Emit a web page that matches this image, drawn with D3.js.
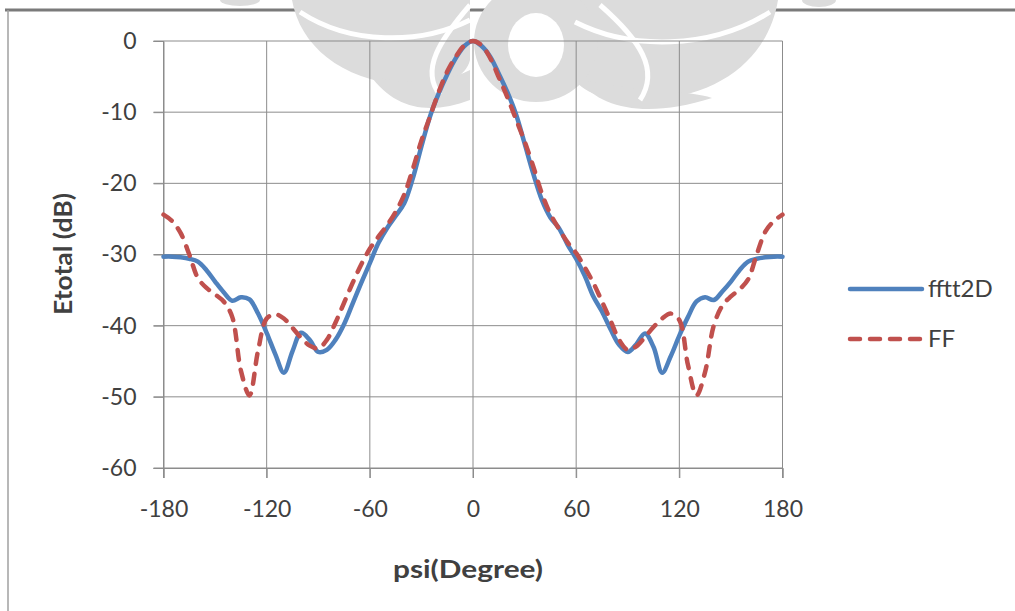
<!DOCTYPE html>
<html>
<head>
<meta charset="utf-8">
<script src="https://cdn.jsdelivr.net/npm/d3@7"></script>
<style>
html,body{margin:0;padding:0;background:#fff;}
svg{display:block;}
text{font-family:Lato,"Open Sans",sans-serif;fill:#404040;}
</style>
</head>
<body>
<svg id="chart" width="1015" height="611"></svg>
<script>
// ---- data ----
const psi = [-180,-175,-170,-165,-160,-155,-150,-145,-140,-135,-130,-125,-120,-115,-110,-105,-100,-95,-90,-85,-80,-75,-70,-65,-60,-55,-50,-45,-40,-35,-30,-25,-20,-15,-10,-5,0,5,10,15,20,25,30,35,40,45,50,55,60,65,70,75,80,85,90,95,100,105,110,115,120,125,130,135,140,145,150,155,160,165,170,175,180];
const fftt2D = [-30.3,-30.3,-30.4,-30.6,-31.0,-32.2,-33.8,-35.3,-36.5,-36.0,-36.3,-38.3,-41.0,-44.0,-46.6,-43.6,-41.0,-42.0,-43.7,-43.4,-42.0,-39.8,-36.9,-34.0,-31.2,-28.4,-26.3,-24.6,-22.8,-19.3,-14.8,-10.6,-7.4,-4.7,-2.4,-0.7,0,-0.7,-2.2,-4.6,-7.2,-10.3,-14.4,-18.6,-22.3,-24.8,-26.3,-28.6,-30.6,-33.0,-35.9,-38.0,-40.5,-42.7,-43.7,-42.6,-41.1,-43.0,-46.6,-44.3,-41.4,-38.8,-36.6,-36.0,-36.4,-35.2,-33.8,-32.2,-31.0,-30.6,-30.4,-30.3,-30.3];
const FF = [-24.4,-25.3,-27.0,-30.0,-33.3,-34.7,-35.6,-36.6,-38.8,-46.3,-49.8,-43.5,-39.0,-38.4,-39.0,-40.3,-41.7,-42.8,-43.2,-42.0,-39.6,-36.8,-34.0,-31.4,-29.2,-27.5,-25.9,-24.0,-21.6,-18.0,-14.0,-10.6,-7.2,-4.3,-2.2,-0.6,0,-0.6,-2.4,-5.1,-7.9,-11.0,-14.1,-17.6,-21.4,-24.3,-26.4,-28.3,-29.8,-31.8,-34.0,-36.6,-39.3,-42.0,-43.4,-42.9,-41.6,-40.2,-39.0,-38.3,-39.2,-45.5,-49.8,-46.5,-40.0,-37.2,-35.9,-34.9,-33.5,-30.0,-26.8,-25.3,-24.4];
const xTicks = [-180,-120,-60,0,60,120,180];
const yTicks = [0,-10,-20,-30,-40,-50,-60];
const seriesNames = ["fftt2D","FF"];
const xTitle = "psi(Degree)";
const yTitle = "Etotal (dB)";

// ---- layout ----
const svg = d3.select("#chart");
const L = 163.5, R = 782.5, T = 41, B = 468;
const x = d3.scaleLinear().domain([-180,180]).range([L,R]);
const y = d3.scaleLinear().domain([-60,0]).range([B,T]);

// frame
svg.append("line").attr("x1",5).attr("x2",1015).attr("y1",10).attr("y2",10)
  .attr("stroke","#7a7a7a").attr("stroke-width",3);
svg.append("line").attr("x1",8).attr("x2",8).attr("y1",10).attr("y2",611)
  .attr("stroke","#a0a0a0").attr("stroke-width",1.5);

// watermark (decorative)
const wm = svg.append("g").attr("fill","#dcdcdc");
wm.append("ellipse").attr("cx",240).attr("cy",0).attr("rx",20).attr("ry",6);
wm.append("ellipse").attr("cx",819).attr("cy",0).attr("rx",17).attr("ry",7);
wm.append("path").attr("d","M292,0 C300,45 340,80 405,85 C440,88 465,80 470,60 L470,0 Z");
wm.append("path").attr("d","M778,0 C770,50 730,95 650,100 C610,103 580,95 568,70 L568,0 Z");
wm.append("path").attr("d","M370,75 C395,110 430,115 470,100 L470,70 C440,85 400,85 370,75 Z");
wm.append("path").attr("d","M580,80 C600,110 650,118 712,98 C690,90 640,92 580,80 Z");
wm.append("ellipse").attr("cx",536).attr("cy",42).attr("rx",62).attr("ry",60);
const wmw = svg.append("g").attr("fill","none").attr("stroke","#fff").attr("stroke-width",5);
wmw.append("path").attr("d","M300,12 C350,45 420,45 470,20");
wmw.append("path").attr("d","M770,12 C710,50 630,50 575,22");
wmw.append("path").attr("d","M470,5 C440,40 420,70 440,95");
wmw.append("path").attr("d","M600,5 C640,40 660,70 640,100");
svg.append("ellipse").attr("cx",536).attr("cy",45).attr("rx",28).attr("ry",32).attr("fill","#fff");

// gridlines
const grid = svg.append("g").attr("stroke","#8c8c8c").attr("stroke-width",1);
grid.selectAll(".hg").data(yTicks).join("line")
  .attr("x1",L-10).attr("x2",R).attr("y1",d=>y(d)).attr("y2",d=>y(d));
grid.selectAll(".vg").data(xTicks).join("line")
  .attr("x1",d=>x(d)).attr("x2",d=>x(d)).attr("y1",T).attr("y2",B+10);

// axes via d3
const yAxis = d3.axisLeft(y).tickValues(yTicks).tickSize(10).tickPadding(17).tickFormat(d3.format("d"));
const gy = svg.append("g").attr("transform",`translate(${L},0)`).call(yAxis);
const xAxis = d3.axisBottom(x).tickValues(xTicks).tickSize(10).tickPadding(23).tickFormat(d3.format("d"));
const gx = svg.append("g").attr("transform",`translate(0,${B})`).call(xAxis);
[gx,gy].forEach(g=>{
  g.select(".domain").attr("stroke","#8c8c8c");
  g.selectAll(".tick line").attr("stroke","#8c8c8c");
  g.selectAll(".tick text").attr("fill","#404040").style("font-size","23px").style("font-family","Lato,'Open Sans',sans-serif");
});
gx.selectAll(".tick text").text(d=>String(d));
gy.selectAll(".tick text").text(d=>String(d));

// axis titles
svg.append("text").attr("x",468).attr("y",578).attr("text-anchor","middle")
  .attr("textLength",150).attr("lengthAdjust","spacingAndGlyphs")
  .style("font-size","24px").style("font-weight","bold").text(xTitle);
svg.append("text").attr("transform","translate(72,254) rotate(-90)").attr("text-anchor","middle")
  .attr("textLength",122).attr("lengthAdjust","spacingAndGlyphs")
  .style("font-size","24px").style("font-weight","bold").text(yTitle);

// lines
const line = d3.line().curve(d3.curveCatmullRom.alpha(0.5)).x((d,i)=>x(psi[i])).y(d=>y(d));
svg.append("path").datum(fftt2D).attr("d",line).attr("fill","none")
  .attr("stroke","#4F81BD").attr("stroke-width",4.5).attr("stroke-linejoin","round").attr("stroke-linecap","round");
svg.append("path").datum(FF).attr("d",line).attr("fill","none")
  .attr("stroke","#C0504D").attr("stroke-width",4.5).attr("stroke-dasharray","10,10").attr("stroke-linecap","round");

// legend
const leg = svg.append("g");
const legY = [289,339];
leg.append("line").attr("x1",850).attr("x2",922).attr("y1",legY[0]).attr("y2",legY[0])
  .attr("stroke","#4F81BD").attr("stroke-width",4.5).attr("stroke-linecap","round");
leg.append("line").attr("x1",850).attr("x2",922).attr("y1",legY[1]).attr("y2",legY[1])
  .attr("stroke","#C0504D").attr("stroke-width",4.5).attr("stroke-dasharray","10,10").attr("stroke-linecap","round");
leg.selectAll("text").data(seriesNames).join("text")
  .attr("x",928).attr("y",(d,i)=>legY[i]+8).style("font-size","24px").text(d=>d);
</script>
</body>
</html>
